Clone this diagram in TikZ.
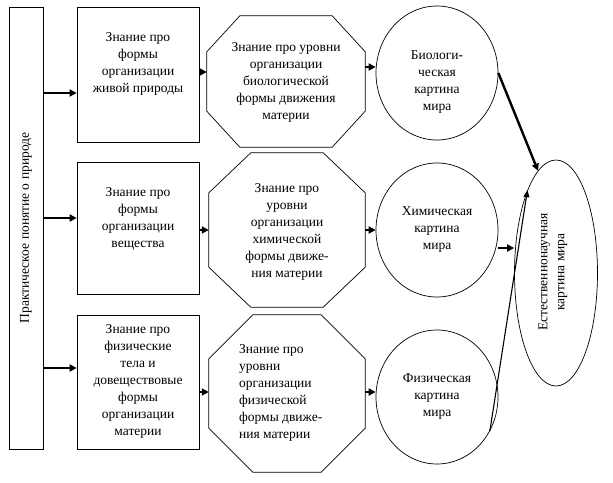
\documentclass[tikz,border=0pt]{standalone}
\usepackage{fontspec}
\setmainfont{Liberation Serif}
\usetikzlibrary{arrows.meta,calc,shapes.geometric}
\begin{document}
\begin{tikzpicture}[x=1pt,y=-1pt,
  every node/.style={font=\fontsize{13.5}{17}\selectfont, align=center, inner sep=0pt},
  shapeline/.style={draw, line width=0.7pt},
  boxnode/.style={shapeline, rectangle, minimum width=122pt},
  circnode/.style={shapeline, ellipse, minimum width=122pt, minimum height=134pt},
  arr/.style={-{Triangle[length=7pt,width=7pt]}, line width=2pt},
  thinarr/.style={-{Triangle[length=7pt,width=6pt]}, line width=1.1pt}]
\useasboundingbox (0,0) rectangle (613,482);

\newcommand\octshape[8]{%
  \node[minimum width=#4pt, minimum height=#5pt] (#1) at (#2,#3) {};
  \draw[shapeline] ($(#1.north west)+(#6,0)$) -- ($(#1.north east)+(-#6,0)$)
     -- ($(#1.north east)+(0,#7)$) -- ($(#1.south east)+(0,-#7)$)
     -- ($(#1.south east)+(-#6,0)$) -- ($(#1.south west)+(#6,0)$)
     -- ($(#1.south west)+(0,-#7)$) -- ($(#1.north west)+(0,#7)$) -- cycle;
}

% left tall box
\node[shapeline, rectangle, minimum width=34pt, minimum height=442pt] (L) at (26,228) {};
\node[rotate=90] (Lt) at (L.center) {Практическое понятие о природе};

% boxes
\node[boxnode, minimum height=135pt] (b1) at (138,74.5) {};
\node (b1t) at (138,64) {Знание про\\формы\\организации\\живой природы};
\node[boxnode, minimum height=132pt] (b2) at (138,228) {};
\node (b2t) at (138,219) {Знание про\\формы\\организации\\вещества};
\node[boxnode, minimum height=134pt] (b3) at (138,382) {};
\node (b3t) at (138,381) {Знание про\\физические\\тела и\\довеществовые\\формы\\организации\\материи};

% octagons
\octshape{o1}{286}{81.5}{158}{131}{33}{36}{}
\node (o1t) at (286,82) {Знание про уровни\\организации\\биологической\\формы движения\\материи};
\octshape{o2}{287}{230}{156}{154}{42}{40}{}
\node (o2t) at (287,232) {Знание про\\уровни\\организации\\химической\\формы движе-\\ния материи};
\octshape{o3}{287}{393.5}{156}{157}{44}{44}{}
\node[align=left, anchor=west] (o3t) at (239,393) {Знание про\\уровни\\организации\\физической\\формы движе-\\ния материи};

% circles
\node[circnode] (c1) at (437,73) {};
\node (c1t) at (437,82) {Биологи-\\ческая\\картина\\мира};
\node[circnode] (c2) at (437,230) {Химическая\\картина\\мира};
\node[circnode] (c3) at (437,397) {Физическая\\картина\\мира};

% big ellipse
\node[shapeline, ellipse, minimum width=83pt, minimum height=226pt] (E) at (556,273) {};
\node[rotate=90] (Et) at (553,272) {Естественнонаучная\\картина мира};

% arrows from left box
\draw[arr] (L.east |- 0,93) -- (b1.west |- 0,93);
\draw[arr] (L.east |- 0,218) -- (b2.west |- 0,218);
\draw[arr] (L.east |- 0,368) -- (b3.west |- 0,368);

% box -> octagon
\draw[arr] (b1.east |- 0,72) -- (o1.west |- 0,72);
\draw[arr] (b2.east |- 0,230) -- (o2.west |- 0,230);
\draw[arr] (b3.east |- 0,392) -- (o3.west |- 0,392);

% octagon -> circle
\draw[arr] (o1.east |- 0,67) -- (c1.west |- 0,67);
\draw[arr] (o2.east) -- (c2.west);
\draw[arr] (o3.east |- 0,392) -- (c3.west |- 0,392);

% circles -> ellipse
\draw[arr, line width=2.4pt] (c1.east) -- (E.100);
\draw[arr] (c2.east |- 0,248) -- (E.west |- 0,248);
\draw[thinarr] (c3.-33) -- (E.109);
\end{tikzpicture}
\end{document}
